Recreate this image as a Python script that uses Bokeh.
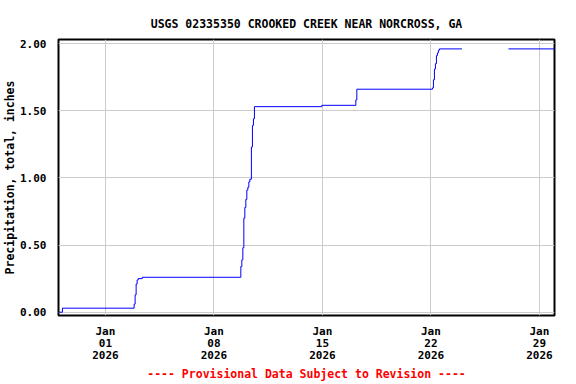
import pandas as pd
from datetime import datetime
from bokeh.plotting import figure
from bokeh.models import Range1d, FixedTicker, PrintfTickFormatter
from bokeh.embed import file_html
from bokeh.resources import INLINE

# ---- data ----
seg1_times = [
    "2025-12-29 00:00", "2025-12-29 05:25", "2026-01-02 20:27", "2026-01-02 22:00",
    "2026-01-02 23:33", "2026-01-03 01:05", "2026-01-03 02:47", "2026-01-03 09:00",
    "2026-01-09 17:38", "2026-01-09 19:12", "2026-01-09 20:45", "2026-01-09 22:18",
    "2026-01-09 23:51", "2026-01-10 01:24", "2026-01-10 02:57", "2026-01-10 04:30",
    "2026-01-10 06:03", "2026-01-10 07:36", "2026-01-10 10:03", "2026-01-10 11:37",
    "2026-01-10 13:09", "2026-01-10 14:43", "2026-01-14 23:04", "2026-01-17 03:43",
    "2026-01-17 05:15", "2026-01-22 02:20", "2026-01-22 03:52", "2026-01-22 05:25",
    "2026-01-22 06:58", "2026-01-22 08:31", "2026-01-22 10:03", "2026-01-22 11:37",
    "2026-01-22 13:09", "2026-01-24 00:00",
]
seg1_values = [
    0.00, 0.03, 0.06, 0.13,
    0.21, 0.24, 0.25, 0.26,
    0.34, 0.39, 0.48, 0.70,
    0.78, 0.84, 0.91, 0.93,
    0.97, 0.99, 1.23, 1.39,
    1.44, 1.53, 1.54, 1.58,
    1.66, 1.67, 1.73, 1.81,
    1.85, 1.91, 1.93, 1.95,
    1.96, 1.96,
]
seg2_times = ["2026-01-27 00:00", "2026-01-30 06:00"]
seg2_values = [1.96, 1.96]

x_ticks = ["2026-01-01", "2026-01-08", "2026-01-15", "2026-01-22", "2026-01-29"]
x_tick_labels = ["Jan\n01\n2026", "Jan\n08\n2026", "Jan\n15\n2026", "Jan\n22\n2026", "Jan\n29\n2026"]
y_ticks = [0.0, 0.5, 1.0, 1.5, 2.0]

title_text = "USGS 02335350 CROOKED CREEK NEAR NORCROSS, GA"
y_label = "Precipitation, total, inches"
footer = "---- Provisional Data Subject to Revision ----"

FONT = "DejaVu Sans Mono"
FS = "11.5px"
FS_TICK = "11px"

t1 = pd.to_datetime(seg1_times)
t2 = pd.to_datetime(seg2_times)

p = figure(width=576, height=384, output_backend="svg", toolbar_location=None,
           x_axis_type="datetime",
           x_range=Range1d(datetime(2025, 12, 28, 23, 20), datetime(2026, 1, 29, 23, 20)),
           y_range=Range1d(-0.0245, 2.03),
           min_border_left=58, min_border_right=22, min_border_top=39, min_border_bottom=68)

p.step(t1, seg1_values, mode="after", line_color="#0000ff", line_width=1)
p.step(t2, seg2_values, mode="after", line_color="#0000ff", line_width=1)

tick_ms = [pd.Timestamp(t).value / 1e6 for t in x_ticks]
p.xaxis.ticker = FixedTicker(ticks=tick_ms)
p.xaxis.major_label_overrides = {ms: lab for ms, lab in zip(tick_ms, x_tick_labels)}
p.yaxis.ticker = FixedTicker(ticks=y_ticks)
p.yaxis.formatter = PrintfTickFormatter(format="%.2f")

for ax in (p.xaxis, p.yaxis):
    ax.axis_line_color = None
    ax.major_tick_line_color = None
    ax.minor_tick_line_color = None
    ax.major_label_text_font = FONT
    ax.major_label_text_font_style = "bold"
    ax.major_label_text_font_size = FS_TICK
    ax.major_label_text_color = "black"
    ax.axis_label_text_font = FONT
    ax.axis_label_text_font_style = "bold"
    ax.axis_label_text_font_size = FS

p.yaxis.axis_label = y_label
p.yaxis.axis_label_text_color = "black"
p.yaxis.axis_label_standoff = 0
p.yaxis.major_label_standoff = 6

p.xaxis.axis_label = footer
p.xaxis.axis_label_text_color = "red"
p.xaxis.major_label_text_line_height = 0.95
p.xaxis.major_label_standoff = 3
p.xaxis.axis_label_standoff = 2

p.grid.grid_line_color = "#cccccc"
p.grid.grid_line_width = 1

p.outline_line_color = "black"
p.outline_line_width = 2
p.background_fill_color = "white"
p.border_fill_color = "white"

p.title.text = title_text
p.title.align = "center"
p.title.text_font = FONT
p.title.text_font_style = "bold"
p.title.text_font_size = FS
p.title.text_color = "black"
p.title.standoff = 18

open("out.html", "w").write(file_html(p, INLINE))
